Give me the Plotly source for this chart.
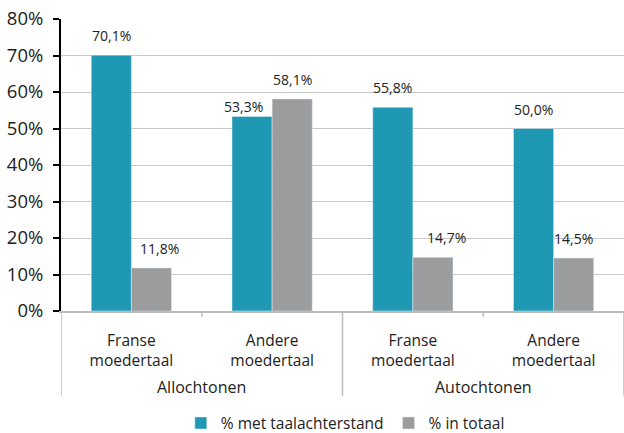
import plotly.graph_objects as go

groups = ["Allochtonen", "Autochtonen"]
subgroups = ["Franse<br>moedertaal", "Andere<br>moedertaal", "Franse<br>moedertaal", "Andere<br>moedertaal"]
pos = [0, 1, 2, 3]

taalachterstand = [70.1, 53.3, 55.8, 50.0]
in_totaal = [11.8, 58.1, 14.7, 14.5]

ytick_vals = [0, 10, 20, 30, 40, 50, 60, 70, 80]
ytick_text = ["0%", "10%", "20%", "30%", "40%", "50%", "60%", "70%", "80%"]


def pct(v):
    return ("%.1f%%" % v).replace(".", ",")


fnt = "Open Sans"
gridc = "#c8c8c8"
axc = "#bbbbbb"
bargap = 0.43
bw = (1 - bargap) / 2

# small hand nudges of the value labels (x, y in px), like the original
nudge_a = [(0, 0), (-9, -10), (0, 0), (0, 0)]
nudge_b = [(8, 0), (0, 0), (14, 0), (0, 0)]

fig = go.Figure()
fig.add_trace(go.Bar(x=pos, y=taalachterstand, name="% met taalachterstand",
                     marker_color="#1f98b4"))
fig.add_trace(go.Bar(x=pos, y=in_totaal, name="% in totaal",
                     marker_color="#9a9c9d"))

# value labels
for series, off, nudge in [(taalachterstand, -bw / 2, nudge_a), (in_totaal, bw / 2, nudge_b)]:
    for i, v in enumerate(series):
        fig.add_annotation(x=pos[i] + off, y=v, xref="x", yref="y", text=pct(v),
                           showarrow=False, yanchor="bottom",
                           xshift=nudge[i][0], yshift=8 + nudge[i][1],
                           font=dict(size=14, color="#222"))

# outer group labels and dividers
for i, g in enumerate(groups):
    fig.add_annotation(x=2 * i + 0.5, y=-0.26, xref="x", yref="paper",
                       text=g, showarrow=False, font=dict(size=16),
                       yanchor="middle")
for b in [-0.5, 1.5, 3.5]:
    fig.add_shape(type="line", xref="x", yref="paper", x0=b, x1=b, y0=0, y1=-0.29,
                  line=dict(color=axc, width=1.5))
for b in [0.5, 2.5]:
    fig.add_shape(type="line", xref="x", yref="paper", x0=b, x1=b, y0=0, y1=-0.02,
                  line=dict(color=axc, width=1.5))

fig.update_layout(
    width=624, height=433,
    margin=dict(l=61, r=0, t=19, b=122, autoexpand=False),
    barmode="group", bargap=bargap, bargroupgap=0,
    plot_bgcolor="white", paper_bgcolor="white",
    font=dict(family=fnt, size=15, color="#222"),
    legend=dict(orientation="h", x=0.505, xanchor="center", y=-0.385, yanchor="middle",
                font=dict(size=15.5), itemwidth=30),
    showlegend=True,
)
fig.update_yaxes(range=[0, 80], tickvals=ytick_vals, ticktext=ytick_text,
                 showgrid=True, gridcolor=gridc, gridwidth=1,
                 showline=True, linecolor="black", linewidth=2,
                 ticks="outside", tickcolor="black", ticklen=6, tickwidth=2,
                 zeroline=False, tickfont=dict(size=18.5), ticklabelstandoff=6,
                 automargin=False)
fig.update_xaxes(range=[-0.5, 3.5], tickvals=pos, ticktext=subgroups,
                 showline=True, linecolor=axc, linewidth=2,
                 ticks="", showgrid=False, zeroline=False,
                 tickfont=dict(size=15.5), ticklabelstandoff=14, automargin=False)

fig.write_html("out.html", config={"displayModeBar": False},
               post_script="document.body.style.margin='0';")
